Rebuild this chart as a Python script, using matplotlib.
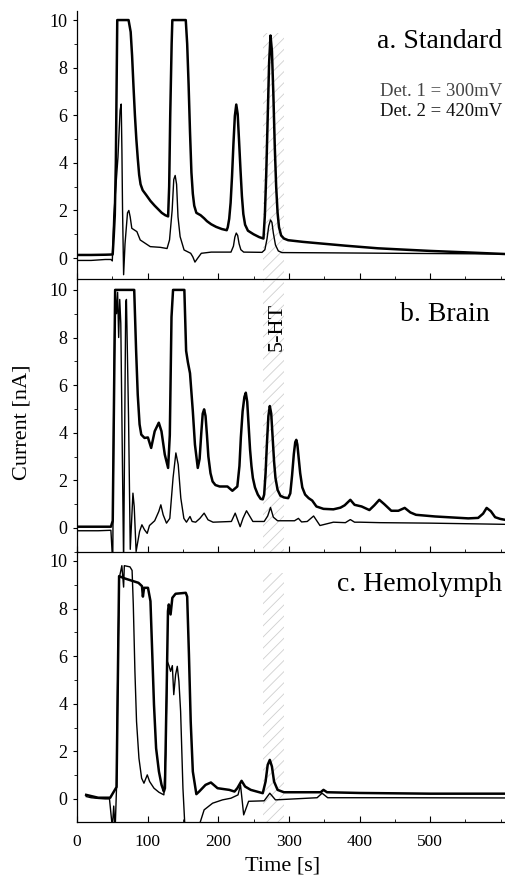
import matplotlib
matplotlib.use("Agg")
import matplotlib.pyplot as plt
from matplotlib.ticker import MultipleLocator

plt.rcParams['font.family'] = ['Liberation Serif', 'DejaVu Serif']
plt.rcParams['hatch.linewidth'] = 0.6

# ---------------- data (time [s], current [nA]) ----------------
# a. Standard, detector 1 (thick)
a_t1 = [0, 20, 40, 50.5, 52, 53.5, 55, 57, 73, 76, 78, 80, 82, 84, 86, 88, 90, 93, 98, 104, 110,
        115, 120, 125, 129, 130.5, 132, 134, 135, 154, 156, 158, 160, 162, 164, 166, 169, 175, 180,
        184, 190, 197, 205, 212, 213.5, 215.5, 217.5, 219.5, 221.5, 223.5, 225.5, 227.5, 229.5,
        231.5, 233.5, 235.5, 238, 242, 250, 258, 264, 266, 268, 270, 272, 274, 276, 278, 280, 282,
        284, 286, 289, 293, 299, 320, 346, 380, 426, 459, 500, 550, 606]
a_y1 = [0.13, 0.13, 0.14, 0.15, 0.9, 1.8, 4.0, 10, 10, 9.5, 8.5, 7.2, 6.0, 5.0, 4.2, 3.5, 3.1,
        2.85, 2.65, 2.4, 2.2, 2.05, 1.9, 1.8, 1.75, 3.0, 6.0, 9.0, 10, 10, 9.0, 7.3, 5.3, 3.6, 2.7,
        2.2, 1.9, 1.8, 1.67, 1.55, 1.42, 1.31, 1.22, 1.17, 1.3, 1.65, 2.32, 3.43, 4.8, 5.97, 6.45,
        6.05, 4.9, 3.7, 2.6, 1.85, 1.4, 1.15, 1.0, 0.88, 0.82, 1.8, 3.6, 5.9, 8.2, 9.35, 8.7, 6.9,
        4.7, 3.0, 1.9, 1.3, 0.95, 0.82, 0.75, 0.68, 0.61, 0.52, 0.41, 0.36, 0.3, 0.24, 0.17]
# a. Standard, detector 2 (thin)
a_t2 = [0, 20, 40, 48, 50, 52, 54, 58, 61, 62.6, 63.6, 64.5, 66, 68, 71.5, 73.4, 75.3, 77.6,
        84.8, 89.5, 103.7, 118, 127.5, 131, 134.7, 137, 139, 141, 143, 146, 151.6, 161, 164, 167,
        171, 176, 190, 218, 221.5, 223.5, 225.5, 227.5, 229.5, 232, 236, 262, 266, 269, 271.5,
        274, 276, 278, 281, 285, 290, 350, 450, 606]
a_y2 = [-0.1, -0.1, -0.06, -0.06, -0.12, 1.73, 2.57, 4.24, 6.2, 6.47, 4.5, 2.0, -0.7, 0.6, 1.9,
        2.0, 1.73, 1.25, 1.11, 0.76, 0.48, 0.45, 0.4, 0.76, 2.0, 3.3, 3.47, 3.1, 1.73, 0.9, 0.34,
        0.2, 0.05, -0.17, 0.0, 0.2, 0.25, 0.25, 0.5, 0.88, 1.05, 0.95, 0.6, 0.35, 0.25, 0.24, 0.35,
        0.8, 1.35, 1.6, 1.5, 1.05, 0.55, 0.3, 0.23, 0.22, 0.2, 0.17]

# b. Brain, detector 1 (thick)
b_t1 = [0, 30, 48, 50.6, 54, 81, 83.7, 86, 88.6, 91, 95.6, 100.4, 105, 110, 115.8, 119.6, 124.3,
        129, 131.4, 133.8, 136, 152, 154.5, 157, 160, 164, 167, 171, 173.6, 176, 178, 180, 182,
        184, 186, 189, 192, 196, 202, 213, 220, 227, 230, 232, 234.5, 237, 239, 241, 243, 245,
        247, 249, 252, 256, 260, 263, 265, 267, 269, 271, 273, 275, 277, 279, 281, 284, 288, 293,
        299, 302, 304.5, 307, 309, 310.5, 312, 314, 316, 319, 323, 328, 333, 339, 349, 363,
        373, 379, 387, 393, 403, 414, 421, 428, 435, 445, 455, 464, 472, 480, 507, 554, 568, 575,
        580, 586, 592, 599, 606]
b_y1 = [0.05, 0.05, 0.05, 0.3, 10, 10, 7.44, 5.6, 4.35, 3.92, 3.78, 3.8, 3.36, 4.06, 4.42, 4.06,
        3.08, 2.52, 3.9, 8.86, 10, 10, 7.44, 6.96, 6.5, 4.9, 3.5, 2.52, 2.9, 4.0, 4.8, 4.98, 4.7,
        3.9, 3.0, 2.3, 1.95, 1.8, 1.74, 1.74, 1.56, 1.74, 2.6, 3.8, 4.9, 5.5, 5.68, 5.3, 4.3, 3.3,
        2.6, 2.1, 1.7, 1.4, 1.22, 1.2, 1.4, 2.3, 3.6, 4.7, 5.12, 4.8, 3.8, 2.8, 2.1, 1.6, 1.35, 1.28,
        1.25, 1.45, 2.2, 3.1, 3.6, 3.7, 3.5, 2.9, 2.3, 1.7, 1.4, 1.25, 1.15, 0.9,
        0.8, 0.78, 0.85, 0.95, 1.18, 0.97, 0.9, 0.75, 0.95, 1.18, 1.0, 0.72, 0.72, 0.84, 0.65, 0.55,
        0.48, 0.4, 0.42, 0.6, 0.84, 0.7, 0.45, 0.38, 0.34]
# b. Brain, detector 2 (thin)
b_t2 = [0, 30, 48, 50.6, 52, 54, 56, 57.5, 59, 60.5, 62, 66, 69, 70, 73, 75.4, 79.2, 81, 83.7,
        88.6, 91.9, 95.6, 99.4, 102.6, 110, 115.8, 118.7, 122, 126.7, 131.4, 136, 140, 143.3, 147,
        151.3, 155, 160, 163, 168, 174, 180, 185.5, 192.6, 218.6, 224, 231, 235, 240, 249, 265,
        270, 274, 278, 284, 308, 313.5, 318, 326, 335, 344, 363, 380, 387, 393, 401, 429, 500, 606]
b_y2 = [-0.12, -0.12, -0.1, -1.5, 5.0, 10, 9.0, 9.9, 8.0, 9.6, 8.6, -1.5, 9.5, 9.6, 4.6, -0.9,
        1.46, 0.9, -0.99, -0.15, 0.13, -0.08, -0.23, 0.1, 0.3, 0.69, 0.97, 0.55, 0.2, 0.4, 2.1,
        3.15, 2.66, 1.25, 0.4, 0.24, 0.48, 0.27, 0.24, 0.4, 0.62, 0.34, 0.24, 0.27, 0.62, 0.05, 0.4,
        0.72, 0.27, 0.27, 0.5, 0.86, 0.45, 0.3, 0.3, 0.4, 0.25, 0.27, 0.5, 0.1, 0.24, 0.22, 0.35,
        0.24, 0.24, 0.22, 0.2, 0.15]

# c. Hemolymph, detector 1 (thick)
c_t1 = [13, 20, 30, 40, 47, 56, 59.6, 68, 87, 92, 93.3, 95, 100.5, 104, 106.6, 109, 112, 116,
        119.7, 123, 124.5, 127, 128.8, 130, 132.5, 135, 139.6, 154, 156, 158.5, 161, 164, 169, 173,
        182, 189.6, 199, 215.6, 223, 227, 233, 238, 246, 263, 267, 270, 273, 276, 279, 284, 293,
        345, 349, 354, 400, 500, 606]
c_y1 = [0.17, 0.12, 0.05, 0.05, 0.05, 0.5, 9.36, 9.26, 9.08, 8.94, 8.5, 8.87, 8.87, 8.31, 6.06,
        3.96, 2.13, 1.15, 0.59, 0.31, 0.45, 4.67, 7.89, 8.17, 7.75, 8.45, 8.62, 8.66, 8.5, 6.06,
        3.25, 1.15, 0.2, 0.31, 0.59, 0.69, 0.45, 0.38, 0.31, 0.45, 0.76, 0.52, 0.38, 0.24, 0.73,
        1.43, 1.64, 1.36, 0.73, 0.38, 0.28, 0.28, 0.38, 0.28, 0.25, 0.22, 0.22]
# c. Hemolymph, detector 2 (thin)
c_t2 = [13, 20, 30, 40, 46, 48, 50, 52, 54, 56, 58, 60, 63.5, 66, 67, 75, 78, 79.7, 82, 84.3,
        87.7, 91.5, 94.8, 99.5, 102.8, 109, 116, 123, 125.5, 127.8, 130.2, 132.5, 135, 137, 139.6,
        142, 144.3, 146.7, 150, 153, 171, 180, 192, 206, 218, 228, 231.5, 236, 243, 265, 273, 281,
        340, 347, 355, 450, 606]
c_y2 = [0.1, 0.05, 0.02, 0.0, 0.0, -0.6, -1.2, -0.3, -1.3, 0.5, 6.0, 9.3, 9.8, 8.9, 9.8, 9.75,
        9.6, 8.17, 5.36, 3.25, 1.71, 0.87, 0.66, 1.01, 0.73, 0.45, 0.28, 0.17, 1.85, 5.78, 5.6,
        5.36, 5.6, 4.38, 5.22, 5.57, 4.94, 3.68, 0.45, -1.3, -1.3, -0.46, -0.18, -0.04, 0.03, 0.17,
        0.59, -0.67, -0.1, -0.08, 0.24, -0.04, 0.05, 0.24, 0.05, 0.05, 0.04]

x_ticks = [0, 100, 200, 300, 400, 500]
y_ticks = [0, 2, 4, 6, 8, 10]
band = (263, 293)   # 5-HT retention window
panel_titles = ["a. Standard", "b. Brain", "c. Hemolymph"]

# ---------------- layout ----------------
W, H = 505, 875
fig = plt.figure(figsize=(W / 100, H / 100), dpi=100)
left = 77 / W
width = (W - 77) / W
XMAX = 606

# (bottom pixel, ylim bottom, ylim top)
specs = [(279, -0.88, 10.4), (551.7, -1.0, 10.4), (822, -0.97, 10.4)]
ppu = 23.8
panels = [(a_t1, a_y1, a_t2, a_y2), (b_t1, b_y1, b_t2, b_y2), (c_t1, c_y1, c_t2, c_y2)]
band_tops = [9.45, 10.4, 9.5]

axes = []
for i, ((bpx, y0, y1), (t1, v1, t2, v2)) in enumerate(zip(specs, panels)):
    h = (y1 - y0) * ppu
    ax = fig.add_axes([left, (H - bpx) / H, width, h / H])
    ax.set_facecolor('none')
    ax.set_xlim(0, XMAX)
    ax.set_ylim(y0, y1)
    # hatched 5-HT band
    ax.fill_betweenx([y0, band_tops[i]], band[0], band[1], facecolor='none',
                     edgecolor='#cfcfcf', hatch='///', linewidth=0, zorder=0)
    ax.plot(t2, v2, color='black', lw=1.0, zorder=3)
    ax.plot(t1, v1, color='black', lw=1.8, zorder=4)
    for s in ['top', 'right']:
        ax.spines[s].set_visible(False)
    ax.spines['left'].set_linewidth(0.9)
    ax.spines['bottom'].set_linewidth(0.9)
    ax.set_yticks(y_ticks)
    ax.yaxis.set_minor_locator(MultipleLocator(1))
    ax.set_xticks(x_ticks)
    ax.xaxis.set_minor_locator(MultipleLocator(50))
    ax.tick_params(axis='y', which='major', direction='out', length=3, width=0.8,
                   labelsize=13, pad=4)
    ax.tick_params(axis='y', which='minor', direction='out', length=2, width=0.6)
    ax.tick_params(axis='x', which='major', direction='in', length=4, width=0.8,
                   labelsize=12.5, pad=9)
    ax.tick_params(axis='x', which='minor', direction='in', length=2, width=0.6)
    if i < 2:
        ax.tick_params(axis='x', labelbottom=False)
    axes.append(ax)

ax_a, ax_b, ax_c = axes
ax_a.text(602, 8.84, panel_titles[0], ha='right', va='baseline', fontsize=20)
ax_a.text(602, 6.82, "Det. 1 = 300mV", ha='right', va='baseline', fontsize=13.5, color='#444444')
ax_a.text(602, 5.95, "Det. 2 = 420mV", ha='right', va='baseline', fontsize=13.5, color='#111111')
ax_b.text(585, 8.70, panel_titles[1], ha='right', va='baseline', fontsize=20)
ax_b.text(283, 8.44, "5-HT", rotation=90, ha='center', va='center', fontsize=16)
ax_c.text(602, 8.73, panel_titles[2], ha='right', va='baseline', fontsize=20)

fig.text(22 / W, 1 - 422 / H, "Current [nA]", rotation=90, ha='center', va='center', fontsize=16)
fig.text(283 / W, 1 - 871 / H, "Time [s]", ha='center', va='baseline', fontsize=16)

fig.savefig("out.png", dpi=100)
